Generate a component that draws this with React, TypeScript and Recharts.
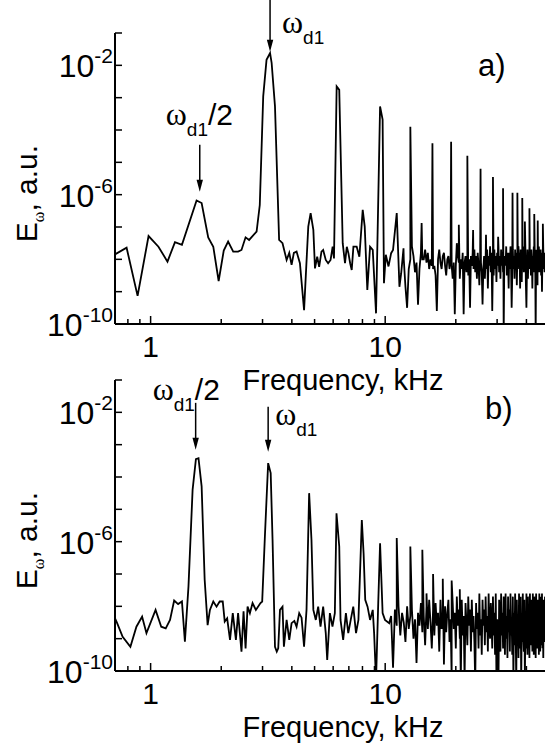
import React from "react";
import { LineChart, Line, XAxis, YAxis, ReferenceDot } from "recharts";

const FONT = '"Liberation Sans", Arial, sans-serif';
const SERIF = '"Liberation Serif", "Times New Roman", serif';

// ---- panel a) ----
// low-frequency part read point by point: kHz / log10(E)
const aFreq = [
  0.7, 0.79, 0.88, 0.98, 1.08, 1.18, 1.27, 1.36, 1.57, 1.65, 1.76, 1.85, 1.95, 2.05, 2.14, 2.25, 2.36,
  2.44, 2.54, 2.63, 2.83, 2.92, 3.02, 3.12, 3.23, 3.28, 3.39, 3.53, 3.65, 3.8, 3.9, 3.99, 4.08, 4.19,
  4.33, 4.51, 4.7, 4.81, 4.94, 5.02, 5.13, 5.23, 5.35, 5.44, 5.58, 5.71, 5.85, 5.97, 6.05, 6.21, 6.37,
  6.59, 6.74, 6.86, 6.97, 7.09, 7.2, 7.32, 7.56, 7.76, 8.02, 8.18, 8.39, 8.62, 8.85, 9.14, 9.51, 9.75,
  9.88, 10.06, 10.33, 10.6, 10.8, 11.2, 11.5, 11.7, 11.97,
];
const aLogE = [
  -7.86, -7.64, -9.13, -7.28, -7.61, -8.07, -7.47, -7.55, -6.18, -6.26, -7.32, -7.61, -8.67, -7.73, -7.45, -7.76, -7.76,
  -7.71, -7.32, -7.4, -7.14, -6.32, -2.96, -1.83, -1.62, -1.92, -3.27, -7.4, -7.5, -8.02, -7.8, -8.17, -7.8, -7.76,
  -8.12, -9.57, -6.99, -6.57, -7.09, -8.28, -7.92, -8.23, -7.76, -7.71, -8.02, -8.12, -8.02, -7.61, -7.97, -2.65, -2.76,
  -7.5, -8.12, -7.61, -7.81, -8.12, -8.33, -7.61, -7.61, -7.92, -6.47, -6.99, -8.95, -7.61, -7.71, -9.67, -3.27, -3.68,
  -8.74, -7.86, -8.22, -7.81, -7.71, -6.57, -8.85, -8.43, -7.66,
];
// noise floor above 12 kHz, one value every 0.2 kHz
const aNoiseStart = 12;
const aNoiseStep = 0.2;
const aNoise = [
  -8.0, -8.85, -9.5, -8.3, -8.0, -7.6, -7.9, -8.4, -8.1, -9.4,
  -8.3, -7.8, -8.0, -8.0, -7.7, -8.1, -7.8, -8.3, -8.0, -8.2,
  -8.3, -8.2, -8.5, -9.6, -8.0, -7.7, -8.1, -8.3, -7.9, -7.8,
  -8.2, -8.5, -8.0, -7.9, -8.3, -8.0, -8.2, -8.6, -8.1, -9.7,
  -8.2, -7.5, -7.9, -8.1, -8.6, -8.0, -8.3, -7.8, -9.7, -8.1,
  -7.9, -8.4, -8.0, -8.5, -8.0, -9.5, -7.9, -8.2, -7.8, -8.3,
  -7.7, -8.4, -7.9, -8.6, -7.8, -8.2, -8.8, -7.9, -8.1, -8.4,
  -9.4, -8.3, -7.9, -8.6, -8.0, -8.3, -7.7, -8.9, -7.9, -8.2,
  -7.6, -8.4, -7.8, -9.6, -8.0, -8.5, -7.7, -8.3, -7.9, -8.7,
  -7.8, -8.2, -7.6, -8.4, -7.9, -8.6, -7.7, -8.2, -7.8, -8.4,
  -10.3, -8.0, -7.9, -8.2, -7.6, -8.5, -7.8, -8.1, -8.9, -7.8,
  -8.3, -7.6, -8.2, -9.5, -8.5, -7.7, -8.3, -7.9, -8.6, -7.7,
  -8.2, -7.8, -8.8, -7.9, -8.3, -7.6, -8.1, -7.8, -8.9, -7.7,
  -8.3, -8.7, -7.8, -8.2, -7.6, -8.4, -7.9, -8.1, -7.7, -8.8,
  -9.5, -8.3, -7.7, -8.6, -7.9, -8.2, -7.6, -8.3, -7.8, -8.5,
  -7.7, -8.1, -8.9, -7.9, -8.2, -7.6, -8.4, -7.8, -8.0, -10.3,
  -7.7, -8.3, -7.9, -8.8, -7.8, -8.2, -7.6, -8.4, -7.9, -8.2,
  -7.7, -8.5, -7.8, -9.0, -7.9, -8.3, -7.7, -8.1, -7.8, -8.4,
  -7.9,
];
// harmonic spikes above 12 kHz
const aPeakFreq = [12.8, 14.3, 15.9, 19.1, 20.6, 22.4, 23.7, 25.5, 26.9, 28.8, 30.3, 31.8, 34.9, 36.6, 38.4, 39.4, 41.2, 43.2, 44.7, 47.0];
const aPeakLogE = [-3.9, -6.88, -4.41, -4.36, -6.93, -4.8, -7.09, -5.2, -7.24, -5.45, -7.3, -5.8, -5.94, -5.94, -6.1, -6.83, -6.42, -6.6, -6.8, -6.9];
// arrow tips: omega_d1/2 and omega_d1
const aMarkFreq = [1.62, 3.23];
const aMarkLogE = [-5.91, -1.58];

// ---- panel b) ----
const bFreq = [
  0.7, 0.72, 0.76, 0.82, 0.87, 0.92, 0.96, 1.05, 1.11, 1.16, 1.21, 1.26, 1.31, 1.36, 1.4, 1.45, 1.51,
  1.56, 1.6, 1.65, 1.7, 1.75, 1.79, 1.85, 1.91, 1.97, 2.03, 2.07, 2.12, 2.18, 2.24, 2.31, 2.36, 2.44,
  2.49, 2.54, 2.59, 2.65, 2.72, 2.81, 2.94, 2.99, 3.07, 3.17, 3.25, 3.31, 3.39, 3.45, 3.5, 3.56, 3.65,
  3.7, 3.8, 3.9, 3.99, 4.1, 4.19, 4.3, 4.4, 4.51, 4.62, 4.74, 4.85, 4.94, 5.06, 5.18, 5.3, 5.44, 5.58,
  5.66, 5.81, 5.96, 6.1, 6.2, 6.37, 6.45, 6.62, 6.8, 6.96, 7.13, 7.31, 7.51, 7.69, 7.95, 8.09, 8.22,
  8.41, 8.62, 8.85, 8.97, 9.14, 9.34, 9.51, 9.75, 9.98, 10.4,
];
const bLogE = [
  -8.32, -8.52, -8.94, -9.25, -8.63, -8.32, -8.83, -8.11, -8.63, -8.68, -8.42, -7.82, -7.93, -7.85, -9.09, -7.39, -4.4,
  -3.45, -3.42, -4.29, -7.18, -8.58, -8.11, -7.85, -8.01, -7.85, -7.85, -8.47, -8.37, -9.04, -8.21, -9.04, -8.21, -9.4,
  -8.15, -9.3, -8.01, -8.21, -7.9, -8.11, -7.9, -7.85, -5.84, -3.57, -3.88, -5.94, -9.25, -9.4, -9.3, -8.11, -8.01,
  -9.25, -8.42, -9.04, -8.52, -8.45, -8.63, -8.21, -8.35, -9.25, -8.11, -4.5, -5.94, -8.11, -8.42, -8.01, -8.63, -8.01, -8.83,
  -9.66, -8.21, -8.63, -8.21, -5.12, -6.15, -8.42, -9.04, -8.21, -8.83, -8.42, -8.01, -8.83, -8.42, -5.33, -6.36, -7.8,
  -8.01, -8.42, -8.11, -8.83, -10.3, -7.9, -6.05, -8.21, -8.42, -8.52,
];
const bNoiseStart = 10.6;
const bNoiseStep = 0.2;
const bNoise = [
  -8.3, -9.9, -8.1, -8.6, -8.0, -8.9, -8.2, -8.5, -9.1, -8.0,
  -8.7, -8.3, -8.1, -9.0, -8.4, -9.75, -8.2, -8.6, -7.9, -8.8,
  -8.3, -9.2, -8.0, -8.7, -7.8, -8.5, -9.3, -8.1, -8.9, -7.9,
  -8.6, -8.2, -9.4, -7.8, -8.7, -8.3, -9.8, -8.0, -8.8, -8.2,
  -7.8, -9.1, -8.4, -10.2, -7.9, -8.7, -8.2, -9.3, -7.7, -8.6,
  -8.1, -9.0, -10.4, -7.8, -8.9, -8.3, -10.3, -7.9, -8.5, -9.2,
  -7.7, -8.6, -8.1, -9.4, -7.8, -8.8, -8.3, -9.1, -10.4, -7.9,
  -8.7, -8.2, -9.3, -7.6, -8.9, -8.4, -9.5, -7.8, -8.6, -8.1,
  -9.2, -7.7, -8.8, -8.3, -9.4, -7.6, -8.7, -9.0, -7.9, -8.5,
  -9.3, -7.7, -8.9, -8.2, -9.5, -7.6, -10.3, -8.4, -9.1, -10.4,
  -7.8, -8.7, -9.4, -7.6, -8.9, -8.2, -9.3, -7.7, -8.6, -9.5,
  -7.6, -9.0, -8.3, -9.6, -7.7, -8.8, -8.1, -9.4, -7.6, -8.9,
  -8.4, -9.5, -7.7, -10.3, -8.2, -9.2, -7.6, -8.7, -10.4, -7.8,
  -8.9, -8.3, -9.6, -7.6, -8.8, -9.3, -7.7, -10.4, -8.6, -9.1,
  -7.6, -8.9, -9.4, -7.8, -10.3, -8.4, -9.3, -7.6, -8.8, -9.5,
  -7.7, -9.0, -8.3, -9.6, -7.6, -8.9, -9.2, -7.8, -8.5, -9.4,
  -7.6, -8.8, -9.5, -7.7, -9.1, -8.4, -9.6, -7.6, -8.7, -9.3,
  -7.8, -9.0, -8.2, -9.5, -7.6, -8.9, -9.4, -7.7, -8.6, -9.2,
  -7.6, -9.3, -8.3, -9.6, -7.8, -8.8, -9.1, -7.7,
];
const bPeakFreq = [11.2, 12.8, 14.4, 15.0, 16.0, 17.6, 19.2, 20.8];
const bPeakLogE = [-5.89, -6.15, -6.25, -7.6, -7.0, -7.15, -7.2, -7.47];
const bMarkFreq = [1.556, 3.17];
const bMarkLogE = [-3.16, -3.22];

const xTicks = [0.8, 0.9, 1, 2, 3, 4, 5, 6, 7, 8, 9, 10, 20, 30, 40];
const yTicks = [1e-10, 1e-9, 1e-8, 1e-7, 1e-6, 1e-5, 1e-4, 1e-3, 1e-2, 1e-1];
const yLabelled = [-2, -6, -10];

function buildSeries(
  freq: number[], logE: number[], start: number, step: number,
  noise: number[], peakF: number[], peakE: number[],
) {
  const pts = freq.map((f, i) => ({ f, e: Math.pow(10, logE[i]) }));
  noise.forEach((v, i) => pts.push({ f: +(start + i * step).toFixed(2), e: Math.pow(10, v) }));
  peakF.forEach((f, i) => pts.push({ f, e: Math.pow(10, peakE[i]) }));
  return pts.sort((p, q) => p.f - q.f);
}

const aData = buildSeries(aFreq, aLogE, aNoiseStart, aNoiseStep, aNoise, aPeakFreq, aPeakLogE);
const bData = buildSeries(bFreq, bLogE, bNoiseStart, bNoiseStep, bNoise, bPeakFreq, bPeakLogE);

function XTick(props: any) {
  const { x, y, payload } = props;
  const v = payload.value;
  const major = v === 1 || v === 10;
  return (
    <g>
      <line x1={x} x2={x} y1={y} y2={y - (major ? 8 : 5)} stroke="#000" strokeWidth={1.5} />
      {major && (
        <text x={x} y={y + 33} textAnchor="middle" fontFamily={FONT} fontSize={30} fill="#000">
          {v}
        </text>
      )}
    </g>
  );
}

function YTick(props: any) {
  const { x, y, payload } = props;
  const p = Math.round(Math.log10(payload.value));
  return (
    <g>
      <line x1={x} x2={x + 7} y1={y} y2={y} stroke="#000" strokeWidth={1.5} />
      {yLabelled.includes(p) && (
        <text x={x - 2} y={y + 12} textAnchor="end" fontFamily={FONT} fill="#000">
          <tspan fontSize={32}>10</tspan>
          <tspan fontSize={21} dy={-14}>{p}</tspan>
        </text>
      )}
    </g>
  );
}

function XTitle(props: any) {
  const vb = props.viewBox;
  return (
    <text x={vb.x + vb.width / 2 + 13} y={vb.y + 66} textAnchor="middle" fontFamily={FONT} fontSize={29} fill="#000">
      Frequency, kHz
    </text>
  );
}

function YTitle(props: any) {
  const vb = props.viewBox;
  const cx = 37;
  const cy = vb.y + vb.height / 2 + 15;
  return (
    <text x={cx} y={cy} transform={`rotate(-90 ${cx} ${cy})`} textAnchor="middle" fontFamily={FONT} fontSize={30} fill="#000">
      E
      <tspan fontFamily={SERIF} fontSize={16} dy={7}>ω</tspan>
      <tspan dy={-7}>, a.u.</tspan>
    </text>
  );
}

// arrow pointing down to (cx, cy) with an omega_d1 label
function Mark(props: any) {
  const { cx, cy, len, tx, ty, half } = props;
  return (
    <g>
      <line x1={cx} x2={cx} y1={cy - len} y2={cy - 10} stroke="#000" strokeWidth={1.5} />
      <path d={`M${cx - 3.2},${cy - 12} L${cx + 3.2},${cy - 12} L${cx},${cy} Z`} fill="#000" />
      <text x={cx + tx} y={cy + ty} fontFamily={FONT} fill="#000">
        <tspan fontFamily={SERIF} fontSize={32}>ω</tspan>
        <tspan fontSize={19} dy={11}>d1</tspan>
        {half && <tspan fontSize={30} dy={-11}>/2</tspan>}
      </text>
    </g>
  );
}

function Panel({ data, children }: { data: { f: number; e: number }[]; children?: React.ReactNode }) {
  return (
    <LineChart width={545} height={400} data={data} margin={{ top: 33, right: 0, bottom: 0, left: 0 }}>
      <XAxis
        dataKey="f"
        type="number"
        scale="log"
        domain={[0.705, 48]}
        allowDataOverflow
        ticks={xTicks}
        interval={0}
        tick={<XTick />}
        tickLine={false}
        tickSize={0}
        tickMargin={0}
        height={76}
        axisLine={{ stroke: "#000", strokeWidth: 2 }}
        label={{ content: (p: any) => <XTitle {...p} /> }}
      />
      <YAxis
        type="number"
        scale="log"
        domain={[1e-10, 1e-1]}
        allowDataOverflow
        ticks={yTicks}
        interval={0}
        tick={<YTick />}
        tickLine={false}
        tickSize={0}
        tickMargin={0}
        width={115}
        axisLine={{ stroke: "#000", strokeWidth: 2 }}
        label={{ content: (p: any) => <YTitle {...p} /> }}
      />
      <Line
        dataKey="e"
        type="linear"
        stroke="#000"
        strokeWidth={1.8}
        dot={false}
        activeDot={false}
        isAnimationActive={false}
      />
      {children}
    </LineChart>
  );
}

const panelLetter: React.CSSProperties = {
  position: "absolute",
  fontFamily: FONT,
  fontSize: 31,
  lineHeight: "31px",
  color: "#000",
};

export default function App() {
  return (
    <div style={{ position: "absolute", left: 0, top: 0, width: 545, height: 747, background: "#fff", overflow: "hidden" }}>
      <div style={{ position: "absolute", left: 0, top: 0 }}>
        <Panel data={aData}>
          <ReferenceDot
            x={aMarkFreq[0]}
            y={Math.pow(10, aMarkLogE[0])}
            r={0}
            shape={(p: any) => <Mark cx={p.cx} cy={p.cy} len={47} tx={-34} ty={-67} half />}
          />
          <ReferenceDot
            x={aMarkFreq[1]}
            y={Math.pow(10, aMarkLogE[1])}
            r={0}
            shape={(p: any) => <Mark cx={p.cx} cy={p.cy} len={52} tx={12} ty={-19} />}
          />
        </Panel>
      </div>
      <div style={{ position: "absolute", left: 0, top: 347 }}>
        <Panel data={bData}>
          <ReferenceDot
            x={bMarkFreq[0]}
            y={Math.pow(10, bMarkLogE[0])}
            r={0}
            shape={(p: any) => <Mark cx={p.cx} cy={p.cy} len={47} tx={-43} ty={-50} half />}
          />
          <ReferenceDot
            x={bMarkFreq[1]}
            y={Math.pow(10, bMarkLogE[1])}
            r={0}
            shape={(p: any) => <Mark cx={p.cx} cy={p.cy} len={45} tx={7} ty={-27} />}
          />
        </Panel>
      </div>
      <div style={{ ...panelLetter, left: 478, top: 50 }}>a)</div>
      <div style={{ ...panelLetter, left: 485, top: 393 }}>b)</div>
    </div>
  );
}
